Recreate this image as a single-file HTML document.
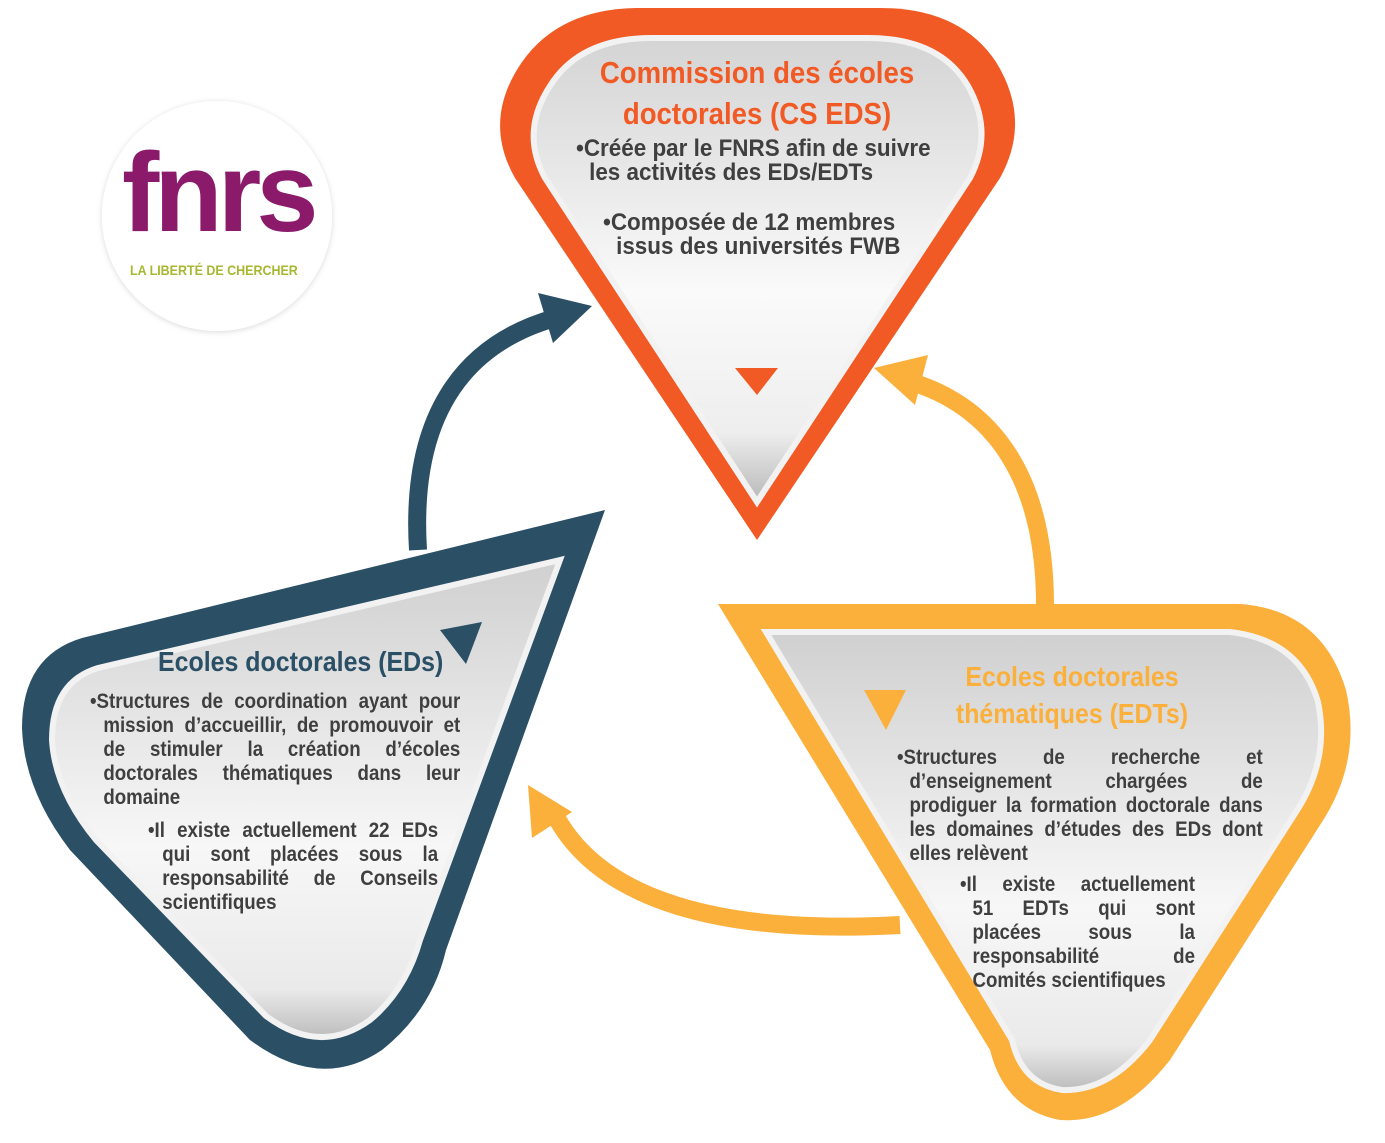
<!DOCTYPE html>
<html><head><meta charset="utf-8"><style>
body{margin:0;width:1385px;height:1143px;background:#fff;position:relative;overflow:hidden;font-family:"Liberation Sans",sans-serif;}
svg{position:absolute;left:0;top:0}
.t{position:absolute;font-weight:bold;color:#3f3f3f;white-space:nowrap;transform:scaleX(0.89);transform-origin:left top}
.c{text-align:center;transform-origin:center top}
.j{text-align:justify;text-align-last:justify;}
.l div{height:24px;line-height:24px}
</style></head><body>
<svg width="1385" height="1143" viewBox="0 0 1385 1143">
<defs>
<linearGradient id="g1" x1="0" y1="0" x2="0" y2="1"><stop offset="0" stop-color="#d4d4d4"/><stop offset="0.55" stop-color="#fafafa"/><stop offset="0.85" stop-color="#eeeeee"/><stop offset="1" stop-color="#b8b8b8"/></linearGradient>
<linearGradient id="g2" x1="0" y1="0" x2="0" y2="1"><stop offset="0" stop-color="#d0d0d0"/><stop offset="0.6" stop-color="#f7f7f7"/><stop offset="0.9" stop-color="#eaeaea"/><stop offset="1" stop-color="#bdbdbd"/></linearGradient>
<filter id="sh" x="-10%" y="-10%" width="120%" height="120%"><feDropShadow dx="0" dy="1" stdDeviation="3" flood-color="#000" flood-opacity="0.15"/></filter>
</defs>
<circle cx="217" cy="216" r="115" fill="#fff" filter="url(#sh)"/>
<path d="M757 540 L515 178 Q482 120 522 62 Q560 8 640 8 L880 8 Q960 8 996 62 Q1032 120 1000 178 Z" fill="#f15a24"/>
<path d="M757 502 L545 178 Q520 132 550 86 Q580 38 652 38 L868 38 Q940 38 968 86 Q994 132 970 178 Z" fill="url(#g1)" stroke="#f2f2f2" stroke-width="6"/>
<polygon points="735,368 778,368 757,395" fill="#f15a24"/>
<path d="M605 510 L82 638 Q22 656 22 728 Q24 790 70 850 L250 1040 Q320 1092 382 1050 Q432 1010 446 950 Z" fill="#2b5066"/>
<path d="M560 560 L98 668 Q52 682 52 740 Q55 790 96 840 L266 1016 Q320 1056 370 1020 Q406 990 420 940 Z" fill="url(#g2)" stroke="#f2f2f2" stroke-width="6"/>
<polygon points="440,630 482,622 466,664" fill="#2b5066"/>
<path d="M718 604 L1240 604 Q1322 610 1346 690 Q1362 760 1322 822 L1170 1060 Q1120 1124 1060 1120 Q1005 1110 990 1050 Z" fill="#fbb03b"/>
<path d="M766 632 L1230 632 Q1300 640 1318 702 Q1330 760 1296 812 L1150 1040 Q1110 1092 1062 1090 Q1022 1084 1012 1040 Z" fill="url(#g2)" stroke="#f2f2f2" stroke-width="6"/>
<polygon points="864,690 906,690 886,730" fill="#fbb03b"/>
<path d="M418 550 C410 420 460 345 555 318" fill="none" stroke="#2b5066" stroke-width="18"/>
<polygon points="538,293 592,306 553,343" fill="#2b5066"/>
<path d="M1045 605 C1045 480 995 405 905 380" fill="none" stroke="#fbb03b" stroke-width="18"/>
<polygon points="874,368 928,355 915,405" fill="#fbb03b"/>
<path d="M900 925 C720 935 600 900 555 815" fill="none" stroke="#fbb03b" stroke-width="18"/>
<polygon points="528,785 572,812 532,838" fill="#fbb03b"/>
</svg>
<div class="t" style="left:122px;top:128px;font-size:112px;color:#8b1a6b;letter-spacing:-5px;line-height:130px;transform:none">fnrs</div>
<div class="t" style="left:130px;top:262px;font-size:14px;color:#a5b82f">LA LIBERTÉ DE CHERCHER</div>

<div class="t c" style="left:532px;top:52px;width:450px;font-size:31px;line-height:41px;color:#f15a24">Commission des écoles<br>doctorales (CS EDS)</div>
<div class="t l" style="left:576px;top:137px;font-size:24px;transform:scaleX(0.935)"><div>•Créée par le FNRS afin de suivre</div><div style="padding-left:14px">les activités des EDs/EDTs</div></div>
<div class="t l" style="left:603px;top:211px;font-size:24px;transform:scaleX(0.935)"><div>•Composée de 12 membres</div><div style="padding-left:14px">issus des universités FWB</div></div>

<div class="t" style="left:158px;top:646px;font-size:28px;color:#2b5066">Ecoles doctorales (EDs)</div>
<div class="t l" style="left:90px;top:690px;width:416px;font-size:21px">
<div class="j">•Structures de coordination ayant pour</div>
<div class="j" style="padding-left:15px">mission d’accueillir, de promouvoir et</div>
<div class="j" style="padding-left:15px">de stimuler la création d’écoles</div>
<div class="j" style="padding-left:15px">doctorales thématiques dans leur</div>
<div style="padding-left:15px">domaine</div></div>
<div class="t l" style="left:148px;top:819px;width:326px;font-size:21px">
<div class="j">•Il existe actuellement 22 EDs</div>
<div class="j" style="padding-left:16px">qui sont placées sous la</div>
<div class="j" style="padding-left:16px">responsabilité de Conseils</div>
<div style="padding-left:16px">scientifiques</div></div>

<div class="t c" style="left:892px;top:658px;width:360px;font-size:28px;line-height:37px;color:#fbb03b">Ecoles doctorales<br>thématiques (EDTs)</div>
<div class="t l" style="left:897px;top:746px;width:411px;font-size:21px">
<div class="j">•Structures de recherche et</div>
<div class="j" style="padding-left:14px">d’enseignement chargées de</div>
<div class="j" style="padding-left:14px">prodiguer la formation doctorale dans</div>
<div class="j" style="padding-left:14px">les domaines d’études des EDs dont</div>
<div style="padding-left:14px">elles relèvent</div></div>
<div class="t l" style="left:960px;top:873px;width:264px;font-size:21px">
<div class="j">•Il existe actuellement</div>
<div class="j" style="padding-left:14px">51 EDTs qui sont</div>
<div class="j" style="padding-left:14px">placées sous la</div>
<div class="j" style="padding-left:14px">responsabilité de</div>
<div style="padding-left:14px">Comités scientifiques</div></div>
</body></html>
